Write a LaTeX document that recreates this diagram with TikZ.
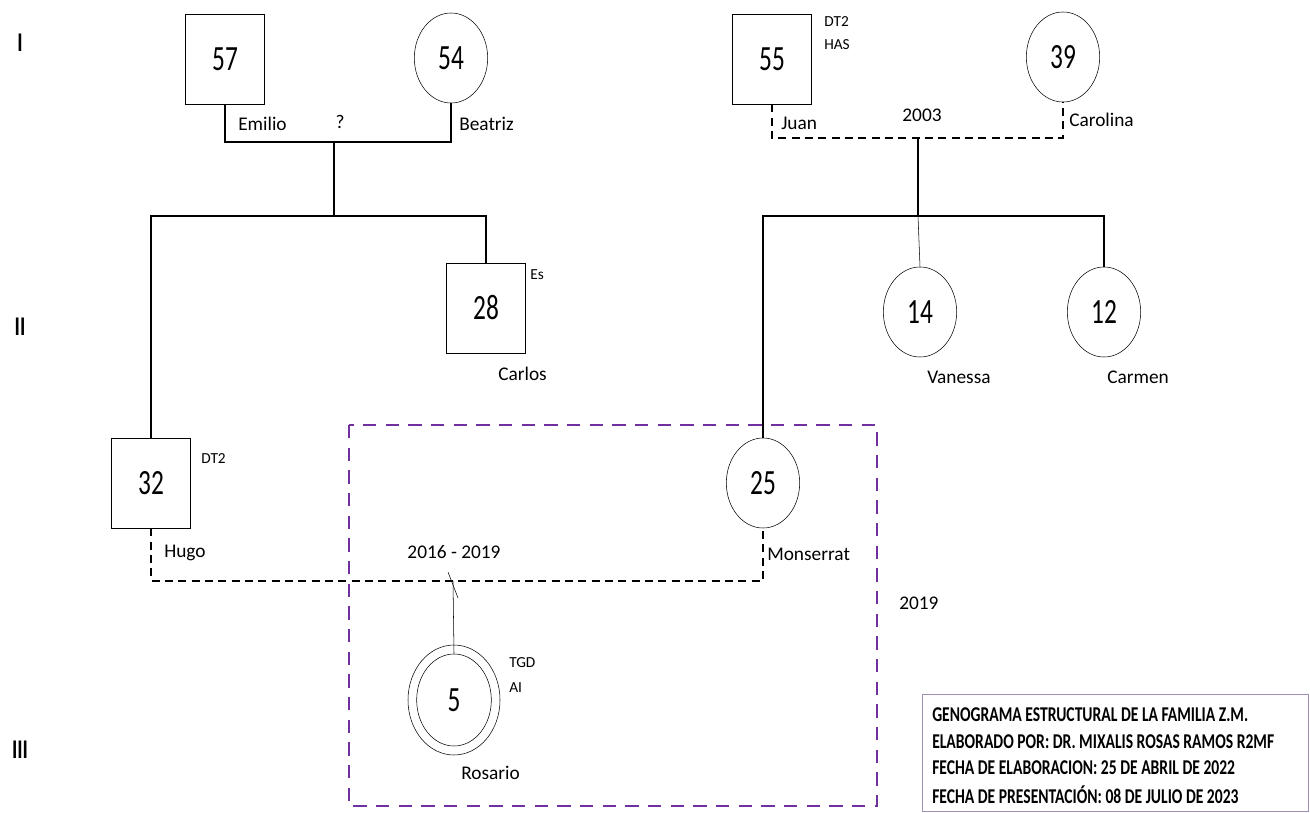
\documentclass[tikz,border=0pt]{standalone}
\usepackage{fontspec}
\setmainfont{Carlito}
\usepackage{tikz}
\usetikzlibrary{positioning, shapes.geometric}
\definecolor{boxpurple}{RGB}{112,48,160}
\definecolor{legendline}{RGB}{160,145,180}
\newcommand{\age}[1]{{\fontsize{19}{19}\selectfont\scalebox{1}[1.4]{#1}}}
\newcommand{\gen}[1]{{\fontsize{15}{15}\selectfont\bfseries\scalebox{1}[1.35]{#1}}}
\tikzset{
x=0.75pt, y=-0.75pt, % one unit is one pixel of the reference, y grows downwards
male/.style={draw, thin, rectangle, minimum width=59pt, minimum height=67.5pt, inner sep=0pt}, % squares for men
female/.style={draw, thin, ellipse, minimum width=55pt, minimum height=67.5pt, inner sep=0pt}, % ellipses for women
tag/.style={inner sep=0pt, anchor=west, font=\fontsize{14.5}{14.5}\selectfont}, % names and years
note/.style={inner sep=0pt, anchor=west, font=\fontsize{11.5}{11.5}\selectfont}, % diagnoses
link/.style={line width=0.9pt}, % solid family lines
separated/.style={line width=0.9pt, dash pattern=on 6pt off 4pt}, % dashed unions
household/.style={boxpurple, line width=1.7pt, dash pattern=on 10pt off 7pt}, % purple frame
legend/.style={inner sep=0pt, anchor=west, font=\fontsize{11.7}{11.7}\selectfont\bfseries},
}
\begin{document}
\begin{tikzpicture}
\useasboundingbox (0,0) rectangle (1310,813);

% generations
\node (genI) at (20,43) {\gen{I}};
\node (genII) at (20,327) {\gen{II}};
\node (genIII) at (20,750) {\gen{III}};

% first generation
\node[male] (emilio) at (225,59) {\age{57}};
\node[female] (beatriz) at (451,58) {\age{54}};
\node[male] (juan) at (772,59) {\age{55}};
\node[female] (carolina) at (1063,57) {\age{39}};

% second generation
\node[male] (carlos) at (486,308) {\age{28}};
\node[female] (vanessa) at (920,312) {\age{14}};
\node[female] (carmen) at (1104,312) {\age{12}};
\node[male] (hugo) at (151,483) {\age{32}};
\node[female] (monserrat) at (763,483) {\age{25}};

% third generation
\node[female, minimum width=69pt, minimum height=82.5pt] (rosarioout) at (454,700) {};
\node[female, minimum width=56pt, minimum height=69pt] (rosario) at (454,700) {\age{5}};

% names, years and diagnoses
\node[tag] (emilioname) at (238,124) {Emilio};
\node[tag, anchor=center] (unknown) at (340,122) {?};
\node[tag] (beatrizname) at (459,124) {Beatriz};
\node[tag] (juanname) at (781,123) {Juan};
\node[tag, anchor=center] (year2003) at (922,115) {2003};
\node[tag] (carolinaname) at (1069,120) {Carolina};
\node[note] (juandt) at (824,22) {DT2};
\node[note] (juanhas) at (824,45) {HAS};
\node[note] (carloses) at (530,275) {Es};
\node[tag] (carlosname) at (498,374) {Carlos};
\node[tag] (vanessaname) at (927,377) {Vanessa};
\node[tag] (carmenname) at (1107,377) {Carmen};
\node[note] (hugodt) at (201,459) {DT2};
\node[tag] (hugoname) at (164,553) {Hugo};
\node[tag] (monserratname) at (767,554) {Monserrat};
\node[tag, anchor=center] (years) at (454,552) {2016 - 2019};
\node[tag] (year2019) at (899,603) {2019};
\node[note] (rosariotgd) at (509,663) {TGD};
\node[note] (rosarioai) at (509,688) {AI};
\node[tag] (rosarioname) at (461,773) {Rosario};

% unions and children
\coordinate (emiliobar) at (334,142);
\coordinate (leftkids) at (334,216);
\coordinate (juanbar) at (918,138);
\coordinate (rightkids) at (918,216);
\coordinate (hugobar) at (453,581);
\draw[link] (emilio.south) |- (emiliobar) -| (beatriz.south);
\draw[link] (emiliobar) -- (leftkids);
\draw[link] (hugo.north) |- (leftkids) -| (carlos.north);
\draw[separated] (juan.south) |- (juanbar) -| (carolina.south);
\draw[link] (juanbar) -- (rightkids);
\draw[link] (monserrat.north) |- (rightkids) -| (carmen.north);
\draw[link, thin] (rightkids) -- (vanessa.north);
\draw[separated] (hugo.south) |- (hugobar) -| (monserrat.south);
\draw[thin] (hugobar) -- (rosario.north);
\draw[thin] (448,572) -- (458,598);

% household frame
\draw[household] (349,425) rectangle (877,806);

% legend
\draw[legendline, thin] (922,694) rectangle (1308,811);
\node[legend] (line1) at (932,715) {\scalebox{1}[1.35]{GENOGRAMA ESTRUCTURAL DE LA FAMILIA Z.M.}};
\node[legend] (line2) at (932,742) {\scalebox{1}[1.35]{ELABORADO POR: DR. MIXALIS ROSAS RAMOS R2MF}};
\node[legend] (line3) at (932,768) {\scalebox{1}[1.35]{FECHA DE ELABORACION: 25 DE ABRIL DE 2022}};
\node[legend] (line4) at (932,795) {\scalebox{1}[1.35]{FECHA DE PRESENTACIÓN: 08 DE JULIO DE 2023}};
\end{tikzpicture}
\end{document}
